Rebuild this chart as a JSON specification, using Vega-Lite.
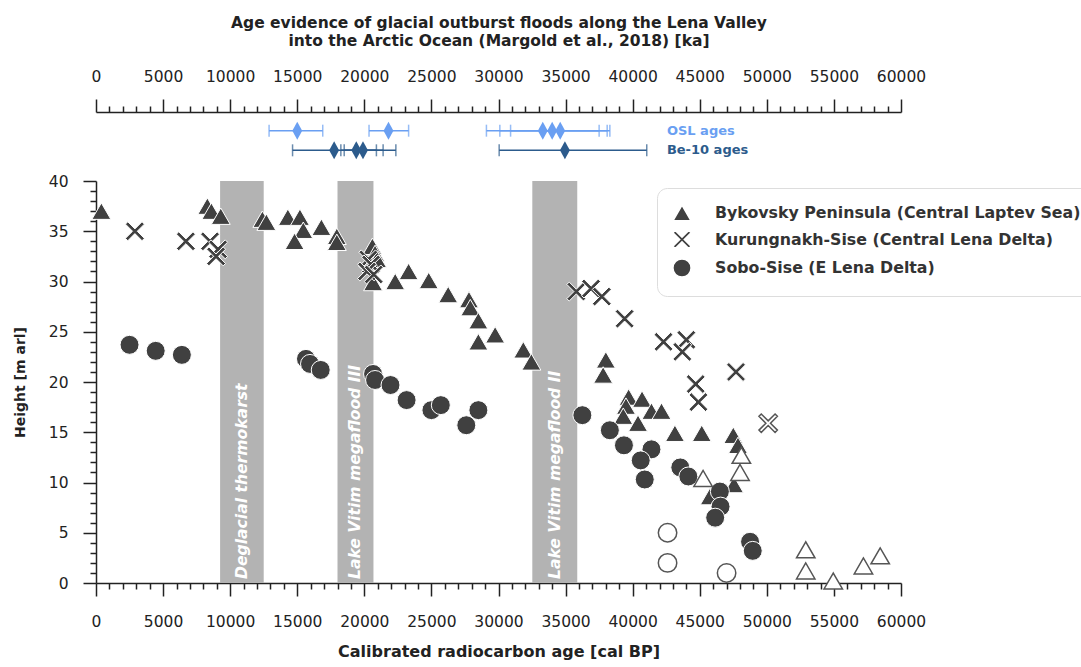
{
  "$schema": "https://vega.github.io/schema/vega-lite/v6.json",
  "padding": {"left": 13, "top": 15, "right": 0, "bottom": 5},
  "spacing": 12,
  "bounds": "flush",
  "config": {
    "font": "DejaVu Sans",
    "view": {"stroke": null},
    "axis": {"domainColor": "#222", "tickColor": "#222", "labelColor": "#222", "titleColor": "#222", "domainWidth": 1.5, "tickWidth": 1.5, "grid": false, "labelFont": "DejaVu Sans", "titleFont": "DejaVu Sans"}
  },
  "datasets": {
    "ages": [
      {"method": "OSL", "age": 15000, "lo": 12900, "hi": 16900},
      {"method": "OSL", "age": 21800, "lo": 20350, "hi": 23300},
      {"method": "OSL", "age": 33300, "lo": 29100, "hi": 37500},
      {"method": "OSL", "age": 34000, "lo": 30100, "hi": 38100},
      {"method": "OSL", "age": 34600, "lo": 30900, "hi": 38300},
      {"method": "Be-10", "age": 17750, "lo": 14650, "hi": 20900},
      {"method": "Be-10", "age": 19400, "lo": 18250, "hi": 21400},
      {"method": "Be-10", "age": 19900, "lo": 18500, "hi": 22350},
      {"method": "Be-10", "age": 34950, "lo": 30050, "hi": 41050}
    ],
    "ageLabels": [
      {"method": "OSL", "label": "OSL ages"},
      {"method": "Be-10", "label": "Be-10 ages"}
    ],
    "bands": [
      {"start": 9250, "end": 12500, "mid": 10875, "label": "Deglacial thermokarst"},
      {"start": 18000, "end": 20680, "mid": 19340, "label": "Lake Vitim megaflood III"},
      {"start": 32520, "end": 35870, "mid": 34195, "label": "Lake Vitim megaflood II"}
    ],
    "points": [
      {"site": "Bykovsky Peninsula (Central Laptev Sea)", "age": 400, "height": 37.0},
      {"site": "Bykovsky Peninsula (Central Laptev Sea)", "age": 8300, "height": 37.5},
      {"site": "Bykovsky Peninsula (Central Laptev Sea)", "age": 8600, "height": 37.0},
      {"site": "Bykovsky Peninsula (Central Laptev Sea)", "age": 9300, "height": 36.5},
      {"site": "Bykovsky Peninsula (Central Laptev Sea)", "age": 12400, "height": 36.2},
      {"site": "Bykovsky Peninsula (Central Laptev Sea)", "age": 12700, "height": 35.9},
      {"site": "Bykovsky Peninsula (Central Laptev Sea)", "age": 14300, "height": 36.4},
      {"site": "Bykovsky Peninsula (Central Laptev Sea)", "age": 15200, "height": 36.4},
      {"site": "Bykovsky Peninsula (Central Laptev Sea)", "age": 15450, "height": 35.1},
      {"site": "Bykovsky Peninsula (Central Laptev Sea)", "age": 14800, "height": 34.0},
      {"site": "Bykovsky Peninsula (Central Laptev Sea)", "age": 16800, "height": 35.4},
      {"site": "Bykovsky Peninsula (Central Laptev Sea)", "age": 17950, "height": 34.5},
      {"site": "Bykovsky Peninsula (Central Laptev Sea)", "age": 17950, "height": 33.9},
      {"site": "Bykovsky Peninsula (Central Laptev Sea)", "age": 20600, "height": 33.5},
      {"site": "Bykovsky Peninsula (Central Laptev Sea)", "age": 20800, "height": 32.8},
      {"site": "Bykovsky Peninsula (Central Laptev Sea)", "age": 20950, "height": 32.2},
      {"site": "Bykovsky Peninsula (Central Laptev Sea)", "age": 20650, "height": 29.9},
      {"site": "Bykovsky Peninsula (Central Laptev Sea)", "age": 22300, "height": 30.0},
      {"site": "Bykovsky Peninsula (Central Laptev Sea)", "age": 23300, "height": 31.0},
      {"site": "Bykovsky Peninsula (Central Laptev Sea)", "age": 24800, "height": 30.1},
      {"site": "Bykovsky Peninsula (Central Laptev Sea)", "age": 26250, "height": 28.7},
      {"site": "Bykovsky Peninsula (Central Laptev Sea)", "age": 27800, "height": 28.2},
      {"site": "Bykovsky Peninsula (Central Laptev Sea)", "age": 27900, "height": 27.4},
      {"site": "Bykovsky Peninsula (Central Laptev Sea)", "age": 28500, "height": 26.1},
      {"site": "Bykovsky Peninsula (Central Laptev Sea)", "age": 28500, "height": 24.0},
      {"site": "Bykovsky Peninsula (Central Laptev Sea)", "age": 29750, "height": 24.7},
      {"site": "Bykovsky Peninsula (Central Laptev Sea)", "age": 31850, "height": 23.2},
      {"site": "Bykovsky Peninsula (Central Laptev Sea)", "age": 32450, "height": 22.0},
      {"site": "Bykovsky Peninsula (Central Laptev Sea)", "age": 38000, "height": 22.2},
      {"site": "Bykovsky Peninsula (Central Laptev Sea)", "age": 37800, "height": 20.7},
      {"site": "Bykovsky Peninsula (Central Laptev Sea)", "age": 39700, "height": 18.5},
      {"site": "Bykovsky Peninsula (Central Laptev Sea)", "age": 39500, "height": 17.6},
      {"site": "Bykovsky Peninsula (Central Laptev Sea)", "age": 39300, "height": 16.6},
      {"site": "Bykovsky Peninsula (Central Laptev Sea)", "age": 40700, "height": 18.3},
      {"site": "Bykovsky Peninsula (Central Laptev Sea)", "age": 40400, "height": 15.9},
      {"site": "Bykovsky Peninsula (Central Laptev Sea)", "age": 41400, "height": 17.1},
      {"site": "Bykovsky Peninsula (Central Laptev Sea)", "age": 42150, "height": 17.1},
      {"site": "Bykovsky Peninsula (Central Laptev Sea)", "age": 43150, "height": 14.9},
      {"site": "Bykovsky Peninsula (Central Laptev Sea)", "age": 45150, "height": 14.9},
      {"site": "Bykovsky Peninsula (Central Laptev Sea)", "age": 47500, "height": 14.7},
      {"site": "Bykovsky Peninsula (Central Laptev Sea)", "age": 47850, "height": 13.7},
      {"site": "Bykovsky Peninsula (Central Laptev Sea)", "age": 47550, "height": 9.8},
      {"site": "Bykovsky Peninsula (Central Laptev Sea)", "age": 45750, "height": 8.6},
      {"site": "Kurungnakh-Sise (Central Lena Delta)", "age": 2900, "height": 35.0},
      {"site": "Kurungnakh-Sise (Central Lena Delta)", "age": 6700, "height": 34.0},
      {"site": "Kurungnakh-Sise (Central Lena Delta)", "age": 8500, "height": 34.0},
      {"site": "Kurungnakh-Sise (Central Lena Delta)", "age": 9100, "height": 33.2},
      {"site": "Kurungnakh-Sise (Central Lena Delta)", "age": 8950, "height": 32.5},
      {"site": "Kurungnakh-Sise (Central Lena Delta)", "age": 20300, "height": 32.2},
      {"site": "Kurungnakh-Sise (Central Lena Delta)", "age": 20500, "height": 31.7},
      {"site": "Kurungnakh-Sise (Central Lena Delta)", "age": 20200, "height": 31.0},
      {"site": "Kurungnakh-Sise (Central Lena Delta)", "age": 20700, "height": 30.7},
      {"site": "Kurungnakh-Sise (Central Lena Delta)", "age": 35800, "height": 29.0},
      {"site": "Kurungnakh-Sise (Central Lena Delta)", "age": 36900, "height": 29.3},
      {"site": "Kurungnakh-Sise (Central Lena Delta)", "age": 37700, "height": 28.5},
      {"site": "Kurungnakh-Sise (Central Lena Delta)", "age": 39400, "height": 26.3},
      {"site": "Kurungnakh-Sise (Central Lena Delta)", "age": 42300, "height": 24.0},
      {"site": "Kurungnakh-Sise (Central Lena Delta)", "age": 44000, "height": 24.2},
      {"site": "Kurungnakh-Sise (Central Lena Delta)", "age": 43700, "height": 23.0},
      {"site": "Kurungnakh-Sise (Central Lena Delta)", "age": 44700, "height": 19.8},
      {"site": "Kurungnakh-Sise (Central Lena Delta)", "age": 44900, "height": 18.0},
      {"site": "Kurungnakh-Sise (Central Lena Delta)", "age": 47700, "height": 21.0},
      {"site": "Sobo-Sise (E Lena Delta)", "age": 2500, "height": 23.7},
      {"site": "Sobo-Sise (E Lena Delta)", "age": 4450, "height": 23.1},
      {"site": "Sobo-Sise (E Lena Delta)", "age": 6400, "height": 22.7},
      {"site": "Sobo-Sise (E Lena Delta)", "age": 15650, "height": 22.3},
      {"site": "Sobo-Sise (E Lena Delta)", "age": 15950, "height": 21.8},
      {"site": "Sobo-Sise (E Lena Delta)", "age": 16750, "height": 21.2},
      {"site": "Sobo-Sise (E Lena Delta)", "age": 20650, "height": 20.8},
      {"site": "Sobo-Sise (E Lena Delta)", "age": 20800, "height": 20.2},
      {"site": "Sobo-Sise (E Lena Delta)", "age": 21950, "height": 19.7},
      {"site": "Sobo-Sise (E Lena Delta)", "age": 23150, "height": 18.2},
      {"site": "Sobo-Sise (E Lena Delta)", "age": 25000, "height": 17.2},
      {"site": "Sobo-Sise (E Lena Delta)", "age": 25700, "height": 17.7},
      {"site": "Sobo-Sise (E Lena Delta)", "age": 27600, "height": 15.7},
      {"site": "Sobo-Sise (E Lena Delta)", "age": 28500, "height": 17.2},
      {"site": "Sobo-Sise (E Lena Delta)", "age": 36250, "height": 16.7},
      {"site": "Sobo-Sise (E Lena Delta)", "age": 38300, "height": 15.2},
      {"site": "Sobo-Sise (E Lena Delta)", "age": 39350, "height": 13.7},
      {"site": "Sobo-Sise (E Lena Delta)", "age": 41400, "height": 13.3},
      {"site": "Sobo-Sise (E Lena Delta)", "age": 40600, "height": 12.2},
      {"site": "Sobo-Sise (E Lena Delta)", "age": 40900, "height": 10.3},
      {"site": "Sobo-Sise (E Lena Delta)", "age": 43550, "height": 11.5},
      {"site": "Sobo-Sise (E Lena Delta)", "age": 44150, "height": 10.6},
      {"site": "Sobo-Sise (E Lena Delta)", "age": 46500, "height": 9.1},
      {"site": "Sobo-Sise (E Lena Delta)", "age": 46550, "height": 7.6},
      {"site": "Sobo-Sise (E Lena Delta)", "age": 46150, "height": 6.5},
      {"site": "Sobo-Sise (E Lena Delta)", "age": 48750, "height": 4.1},
      {"site": "Sobo-Sise (E Lena Delta)", "age": 48950, "height": 3.2}
    ],
    "openPoints": [
      {"site": "Bykovsky Peninsula (Central Laptev Sea)", "age": 48100, "height": 12.7},
      {"site": "Bykovsky Peninsula (Central Laptev Sea)", "age": 48000, "height": 11.0},
      {"site": "Bykovsky Peninsula (Central Laptev Sea)", "age": 45250, "height": 10.4},
      {"site": "Bykovsky Peninsula (Central Laptev Sea)", "age": 52900, "height": 3.3},
      {"site": "Bykovsky Peninsula (Central Laptev Sea)", "age": 52900, "height": 1.2},
      {"site": "Bykovsky Peninsula (Central Laptev Sea)", "age": 54950, "height": 0.2},
      {"site": "Bykovsky Peninsula (Central Laptev Sea)", "age": 57200, "height": 1.7},
      {"site": "Bykovsky Peninsula (Central Laptev Sea)", "age": 58450, "height": 2.7},
      {"site": "Kurungnakh-Sise (Central Lena Delta)", "age": 50100, "height": 15.9},
      {"site": "Sobo-Sise (E Lena Delta)", "age": 42600, "height": 5.0},
      {"site": "Sobo-Sise (E Lena Delta)", "age": 42600, "height": 2.0},
      {"site": "Sobo-Sise (E Lena Delta)", "age": 47000, "height": 1.0}
    ]
  },
  "vconcat": [
    {
      "width": 805,
      "height": 57,
      "resolve": {"axis": {"x": "independent"}},
      "layer": [
        {
          "data": {"name": "ages"},
          "mark": {"type": "rule", "strokeWidth": 1.5},
          "encoding": {
            "x": {
              "field": "lo", "type": "quantitative",
              "scale": {"domain": [0, 60000], "nice": false, "zero": false},
              "axis": {
                "orient": "top",
                "values": [0,5000,10000,15000,20000,25000,30000,35000,40000,45000,50000,55000,60000],
                "format": "d",
                "tickSize": 13,
                "labelOverlap": false,
                "labelFlush": false,
                "labelFontSize": 15.5,
                "labelPadding": 15,
                "title": ["Age evidence of glacial outburst floods along the Lena Valley", "into the Arctic Ocean (Margold et al., 2018) [ka]"],
                "titleFontSize": 15.5,
                "titleFontWeight": "bold",
                "titleLineHeight": 18,
                "titlePadding": 21
              }
            },
            "x2": {"field": "hi"},
            "y": {"field": "method", "type": "nominal", "scale": {"type": "point", "domain": ["OSL", "Be-10"], "padding": 0.95}, "axis": null},
            "color": {"field": "method", "type": "nominal", "scale": {"domain": ["OSL", "Be-10"], "range": ["#6a9ff2", "#2c5b8c"]}, "legend": null}
          }
        },
        {
          "data": {"name": "ages"},
          "mark": {"type": "tick", "thickness": 1.5, "size": 12},
          "encoding": {
            "x": {
              "field": "lo", "type": "quantitative",
              "axis": {
                "orient": "top",
                "values": [1000,2000,3000,4000,6000,7000,8000,9000,11000,12000,13000,14000,16000,17000,18000,19000,21000,22000,23000,24000,26000,27000,28000,29000,31000,32000,33000,34000,36000,37000,38000,39000,41000,42000,43000,44000,46000,47000,48000,49000,51000,52000,53000,54000,56000,57000,58000,59000],
                "labels": false,
                "domain": false,
                "tickSize": 6,
                "title": null
              }
            },
            "y": {"field": "method", "type": "nominal"},
            "color": {"field": "method", "type": "nominal", "legend": null}
          }
        },
        {
          "data": {"name": "ages"},
          "mark": {"type": "tick", "thickness": 1.5, "size": 12},
          "encoding": {
            "x": {"field": "hi", "type": "quantitative", "axis": null},
            "y": {"field": "method", "type": "nominal"},
            "color": {"field": "method", "type": "nominal", "legend": null}
          }
        },
        {
          "data": {"name": "ages"},
          "mark": {"type": "point", "shape": "M0,-1L0.55,0L0,1L-0.55,0Z", "filled": true, "size": 324, "opacity": 1},
          "encoding": {
            "x": {"field": "age", "type": "quantitative", "axis": null},
            "y": {"field": "method", "type": "nominal"},
            "color": {"field": "method", "type": "nominal", "legend": null}
          }
        },
        {
          "data": {"name": "ageLabels"},
          "mark": {"type": "text", "align": "left", "baseline": "middle", "fontWeight": "bold", "fontSize": 13},
          "encoding": {
            "x": {"datum": 42550, "type": "quantitative", "axis": null},
            "y": {"field": "method", "type": "nominal"},
            "text": {"field": "label"},
            "color": {"field": "method", "type": "nominal", "legend": null}
          }
        }
      ]
    },
    {
      "width": 805,
      "height": 402,
      "resolve": {"axis": {"x": "independent", "y": "independent"}},
      "layer": [
        {
          "data": {"name": "bands"},
          "mark": {"type": "rect", "color": "#b3b3b3"},
          "encoding": {
            "x": {
              "field": "start", "type": "quantitative",
              "scale": {"domain": [0, 60000], "nice": false, "zero": false},
              "axis": {
                "orient": "bottom",
                "values": [0,5000,10000,15000,20000,25000,30000,35000,40000,45000,50000,55000,60000],
                "format": "d",
                "tickSize": 13,
                "labelOverlap": false,
                "labelFlush": false,
                "labelFontSize": 15.5,
                "labelPadding": 18,
                "title": "Calibrated radiocarbon age [cal BP]",
                "titleFontSize": 16,
                "titleFontWeight": "bold",
                "titlePadding": 14
              }
            },
            "x2": {"field": "end"},
            "y": {
              "datum": 0, "type": "quantitative",
              "scale": {"domain": [0, 40], "nice": false},
              "axis": {
                "orient": "left",
                "values": [0,5,10,15,20,25,30,35,40],
                "tickSize": 13,
                "labelOverlap": false,
                "labelFlush": false,
                "labelFontSize": 15.5,
                "labelPadding": 15,
                "title": "Height [m arl]",
                "titleFontSize": 14,
                "titleFontWeight": "bold",
                "titlePadding": 21
              }
            },
            "y2": {"datum": 40}
          }
        },
        {
          "data": {"name": "bands"},
          "mark": {"type": "text", "angle": 270, "align": "left", "baseline": "middle", "color": "white", "fontStyle": "italic", "fontWeight": "bold", "fontSize": 15.6},
          "encoding": {
            "x": {
              "field": "mid", "type": "quantitative",
              "axis": {
                "orient": "bottom",
                "values": [1000,2000,3000,4000,6000,7000,8000,9000,11000,12000,13000,14000,16000,17000,18000,19000,21000,22000,23000,24000,26000,27000,28000,29000,31000,32000,33000,34000,36000,37000,38000,39000,41000,42000,43000,44000,46000,47000,48000,49000,51000,52000,53000,54000,56000,57000,58000,59000],
                "labels": false,
                "domain": false,
                "tickSize": 6,
                "title": null
              }
            },
            "y": {
              "datum": 0.4, "type": "quantitative",
              "axis": {
                "orient": "left",
                "values": [1,2,3,4,6,7,8,9,11,12,13,14,16,17,18,19,21,22,23,24,26,27,28,29,31,32,33,34,36,37,38,39],
                "labels": false,
                "domain": false,
                "tickSize": 6,
                "title": null
              }
            },
            "text": {"field": "label"}
          }
        },
        {
          "data": {"name": "points"},
          "mark": {"type": "point", "filled": true, "fill": "#404040", "stroke": "white", "strokeWidth": 1, "size": 360, "opacity": 1},
          "encoding": {
            "x": {"field": "age", "type": "quantitative", "axis": null},
            "y": {"field": "height", "type": "quantitative", "axis": null},
            "shape": {
              "field": "site", "type": "nominal",
              "scale": {
                "domain": ["Bykovsky Peninsula (Central Laptev Sea)", "Kurungnakh-Sise (Central Lena Delta)", "Sobo-Sise (E Lena Delta)"],
                "range": ["triangle-up", "M-1,-0.75L-0.75,-1L0,-0.25L0.75,-1L1,-0.75L0.25,0L1,0.75L0.75,1L0,0.25L-0.75,1L-1,0.75L-0.25,0Z", "circle"]
              },
              "legend": {
                "title": null,
                "orient": "none",
                "legendX": 561,
                "legendY": 76,
                "labelFont": "DejaVu Sans",
                "labelFontSize": 15.8,
                "labelFontWeight": "bold",
                "labelColor": "#333",
                "labelLimit": 600,
                "symbolSize": 330,
                "padding": 15,
                "rowPadding": 2.5,
                "labelOffset": 23,
                "strokeColor": "#dddddd",
                "fillColor": "white",
                "cornerRadius": 10,
                "encode": {
                  "labels": {"update": {"fill": {"signal": "datum.label === 'Sobo-Sise (E Lena Delta)' ? '#666666' : '#333333'"}}},
                  "symbols": {"update": {"fill": {"value": "#404040"}, "stroke": {"value": "white"}, "strokeWidth": {"value": 0}}}
                }
              }
            }
          }
        },
        {
          "data": {"name": "openPoints"},
          "mark": {"type": "point", "filled": true, "fill": "white", "stroke": "#555555", "strokeWidth": 1.5, "size": 340, "opacity": 1},
          "encoding": {
            "x": {"field": "age", "type": "quantitative", "axis": null},
            "y": {"field": "height", "type": "quantitative", "axis": null},
            "shape": {"field": "site", "type": "nominal", "legend": null}
          }
        }
      ]
    }
  ]
}
